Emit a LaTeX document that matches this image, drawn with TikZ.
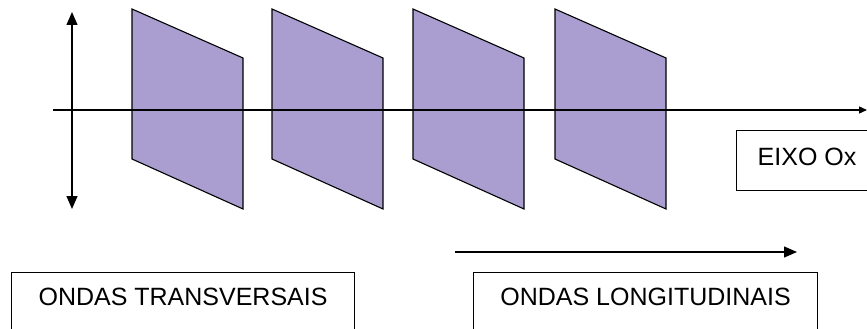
\documentclass[tikz,border=0pt]{standalone}
\usepackage{fontspec}
\setmainfont{Liberation Sans}
\usetikzlibrary{arrows.meta,positioning}
\definecolor{ondalilas}{HTML}{A99ECF}

\begin{document}
\begin{tikzpicture}[
  x=1pt,y=-1pt,
  every node/.style={font=\fontsize{25}{30}\selectfont},
  P/.style={draw=black,line width=1.1pt,fill=ondalilas},
  C/.style={draw=black,line width=1.1pt,anchor=north west,
            text height=18pt,inner ysep=15pt},
  ar/.style={-{Triangle[length=13pt,width=11pt]},line width=1.2pt},
  ad/.style={{Triangle[length=13pt,width=11pt]}-{Triangle[length=13pt,width=11pt]},line width=1.2pt},
  ax/.style={-{Triangle[length=8pt,width=7pt]},line width=1.2pt}
]
\useasboundingbox (0,0) rectangle (867,329);
\clip (0,0) rectangle (867,329);
\fill[white] (0,0) rectangle (867,329);

% planos de onda
\foreach \x in {132,272,413,555}{
  \draw[P] (\x,9) -- (\x+111,58) -- (\x+111,209) -- (\x,159) -- cycle;
}

% eixos
\coordinate (xini) at (53,110);
\coordinate (xfim) at (867,110);
\coordinate (ytop) at (72,12);
\coordinate (ybot) at (72,209);
\draw[ax](xini)--(xfim);
\draw[ad](ytop)--(ybot);

\coordinate (lini) at (455,252);
\coordinate (lfim) at (797,252);
\draw[ar](lini)--(lfim);

% legendas
\node[C,minimum width=141pt,text depth=8pt,inner ysep=17pt](eixo) at (736,130){EIXO Ox};
\node[C,minimum width=343pt,text depth=60pt](trans) at (11,272){ONDAS TRANSVERSAIS};
\node[C,minimum width=344pt,text depth=60pt](longi) at (473,272){ONDAS LONGITUDINAIS};
\end{tikzpicture}
\end{document}
